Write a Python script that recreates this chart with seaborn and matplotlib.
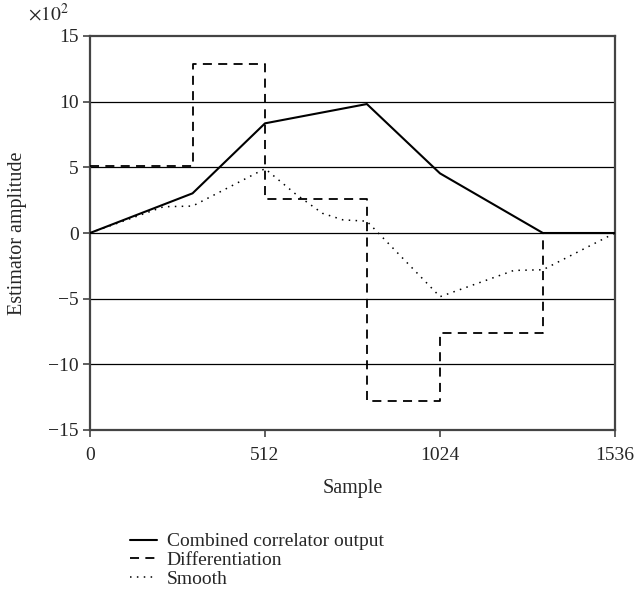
import numpy as np
import pandas as pd
import matplotlib
matplotlib.use("Agg")
import matplotlib.pyplot as plt
import seaborn as sns

# Combined correlator output (values in units of 10^2)
combined_x = [0, 300, 512, 810, 1024, 1325, 1536]
combined_y = [0.0, 3.02, 8.35, 9.82, 4.54, 0.0, 0.0]

# Differentiation: piecewise-constant levels between breakpoints
diff_edges = [0, 300, 512, 810, 1024, 1325, 1536]
diff_levels = [5.12, 12.87, 2.57, -12.77, -7.59, 0.0]

# Smoothed estimate
smooth_x = [0, 215, 300, 512, 600, 680, 740, 810, 1024, 1240, 1325, 1536]
smooth_y = [0.0, 2.0, 2.05, 4.9, 3.0, 1.5, 1.0, 0.9, -4.85, -2.85, -2.8, 0.0]

x_ticks = [0, 512, 1024, 1536]
y_ticks = [-15, -10, -5, 0, 5, 10, 15]

sns.set_style("white")
plt.rcParams["font.family"] = ["Liberation Serif", "DejaVu Serif"]
plt.rcParams["axes.unicode_minus"] = True

# Expand the step levels into explicit vertices
step_x, step_y = [], []
for i, lvl in enumerate(diff_levels):
    step_x += [diff_edges[i], diff_edges[i + 1]]
    step_y += [lvl, lvl]

df_comb = pd.DataFrame({"Sample": combined_x, "Amp": combined_y})
df_diff = pd.DataFrame({"Sample": step_x, "Amp": step_y})
df_smooth = pd.DataFrame({"Sample": smooth_x, "Amp": smooth_y})

fig = plt.figure(figsize=(6.35, 5.96), dpi=100)
ax = fig.add_axes([90 / 635, 1 - 430 / 596, 525 / 635, 394 / 596])

# horizontal reference lines
for yv in [-10, -5, 0, 5, 10]:
    ax.axhline(yv, color="black", lw=0.9, zorder=1)

sns.lineplot(data=df_comb, x="Sample", y="Amp", ax=ax, color="black", lw=1.5,
             sort=False, estimator=None, label="Combined correlator output", zorder=3)
sns.lineplot(data=df_diff, x="Sample", y="Amp", ax=ax, color="black", lw=1.3,
             sort=False, estimator=None, label="Differentiation", zorder=3)
ax.lines[-1].set_dashes([5, 3.5])
sns.lineplot(data=df_smooth, x="Sample", y="Amp", ax=ax, color="black", lw=1.1,
             sort=False, estimator=None, label="Smooth", zorder=3)
ax.lines[-1].set_dashes([1, 3.5])

ax.set_xlim(0, 1536)
ax.set_ylim(-15, 15)
ax.set_xticks(x_ticks)
ax.set_yticks(y_ticks)
ax.set_xticklabels([str(t) for t in x_ticks])
ax.set_yticklabels([str(t).replace("-", "\u2212") for t in y_ticks])
ax.tick_params(axis="both", direction="out", length=5, width=1.2, color="#444444",
               labelsize=14, pad=3, bottom=True, left=True)
ax.tick_params(axis="x", pad=7)
for s in ax.spines.values():
    s.set_color("#444444")
    s.set_linewidth(1.6)

ax.set_xlabel("Sample", fontsize=14.5, labelpad=11)
ax.set_ylabel("Estimator amplitude", fontsize=14.5, labelpad=15)
fig.text(28 / 635, 1 - 14 / 596, r"$\times 10^2$", fontsize=14, va="center",
         ha="left", math_fontfamily="stix")

handles, labels = ax.get_legend_handles_labels()
ax.get_legend().remove()
fig.legend(handles, labels, loc="upper left", bbox_to_anchor=(122 / 635, 1 - 525 / 596),
           frameon=False, fontsize=14, handlelength=1.4, handletextpad=0.5,
           labelspacing=0.05, borderaxespad=0)

fig.savefig("out.png", dpi=100)
